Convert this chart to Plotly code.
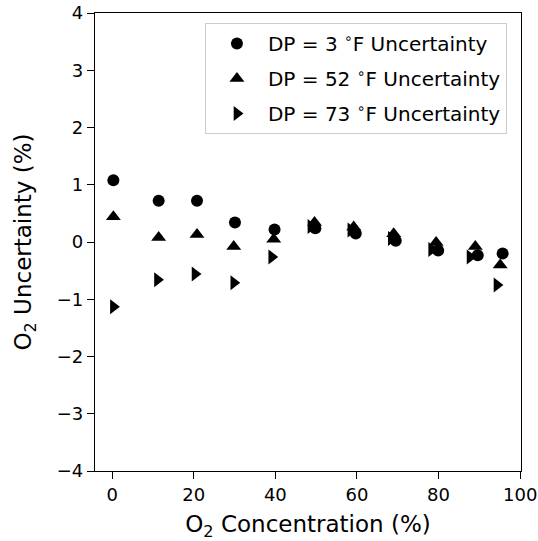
import plotly.graph_objects as go

x_dp3 = [0.3, 11.4, 20.8, 30.1, 39.8, 49.8, 59.7, 69.5, 79.9, 89.6, 95.7]
y_dp3 = [1.08, 0.72, 0.72, 0.34, 0.22, 0.24, 0.15, 0.02, -0.15, -0.23, -0.20]
x_dp52 = [0.3, 11.4, 20.8, 29.8, 39.6, 49.6, 59.2, 69.0, 79.4, 89.0, 95.1]
y_dp52 = [0.44, 0.08, 0.13, -0.08, 0.05, 0.34, 0.26, 0.145, -0.01, -0.08, -0.40]
x_dp73 = [0.3, 11.1, 20.3, 29.8, 39.1, 48.7, 58.5, 68.4, 78.3, 87.7, 94.3]
y_dp73 = [-1.13, -0.66, -0.56, -0.71, -0.26, 0.27, 0.21, 0.06, -0.13, -0.26, -0.75]

names = ["DP = 3 <sup>∘</sup>F Uncertainty",
         "DP = 52 <sup>∘</sup>F Uncertainty",
         "DP = 73 <sup>∘</sup>F Uncertainty"]
x_ticks = [0, 20, 40, 60, 80, 100]
y_ticks = [-4, -3, -2, -1, 0, 1, 2, 3, 4]

fig = go.Figure()
series = [(x_dp3, y_dp3, "circle", 12),
          (x_dp52, y_dp52, "triangle-up", 13),
          (x_dp73, y_dp73, "triangle-right", 13)]
for i, (xs, ys, sym, sz) in enumerate(series):
    fig.add_trace(go.Scatter(
        x=xs, y=ys, mode="markers", name=names[i], legendgroup=str(i),
        marker=dict(symbol=sym, size=sz, color="black", line=dict(width=0)),
    ))

axis_common = dict(
    showgrid=False, zeroline=False, showline=True, linecolor="black",
    linewidth=1.3, mirror=True, ticks="outside", ticklen=7, tickwidth=1.3,
    tickcolor="black", tickfont=dict(size=18, color="black"),
    ticklabeloverflow="allow",
)
fig.update_xaxes(range=[-4.2, 100.2], tickvals=x_ticks,
                 title=dict(text="O<sub>2</sub> Concentration (%)",
                            font=dict(size=23, color="black"), standoff=14),
                 **axis_common)
fig.update_yaxes(range=[-4, 4], tickvals=y_ticks,
                 title=dict(text="O<sub>2</sub> Uncertainty (%)",
                            font=dict(size=23, color="black"), standoff=18),
                 **axis_common)

fig.update_layout(
    width=538, height=541,
    margin=dict(l=95, r=17, t=13, b=70, autoexpand=False),
    paper_bgcolor="white", plot_bgcolor="white",
    font=dict(family="DejaVu Sans", color="black"),
    showlegend=True,
    legend=dict(x=0.967, y=0.978, xanchor="right", yanchor="top",
                bgcolor="rgba(255,255,255,0.8)", bordercolor="#cccccc",
                borderwidth=1, font=dict(size=20), tracegroupgap=6,
                traceorder="grouped", itemwidth=52),
)
# remove the page's default 8px body margin so the figure sits at the window origin
fig.write_html("out.html",
               config={"displayModeBar": False},
               post_script="document.body.style.margin='0px';")
